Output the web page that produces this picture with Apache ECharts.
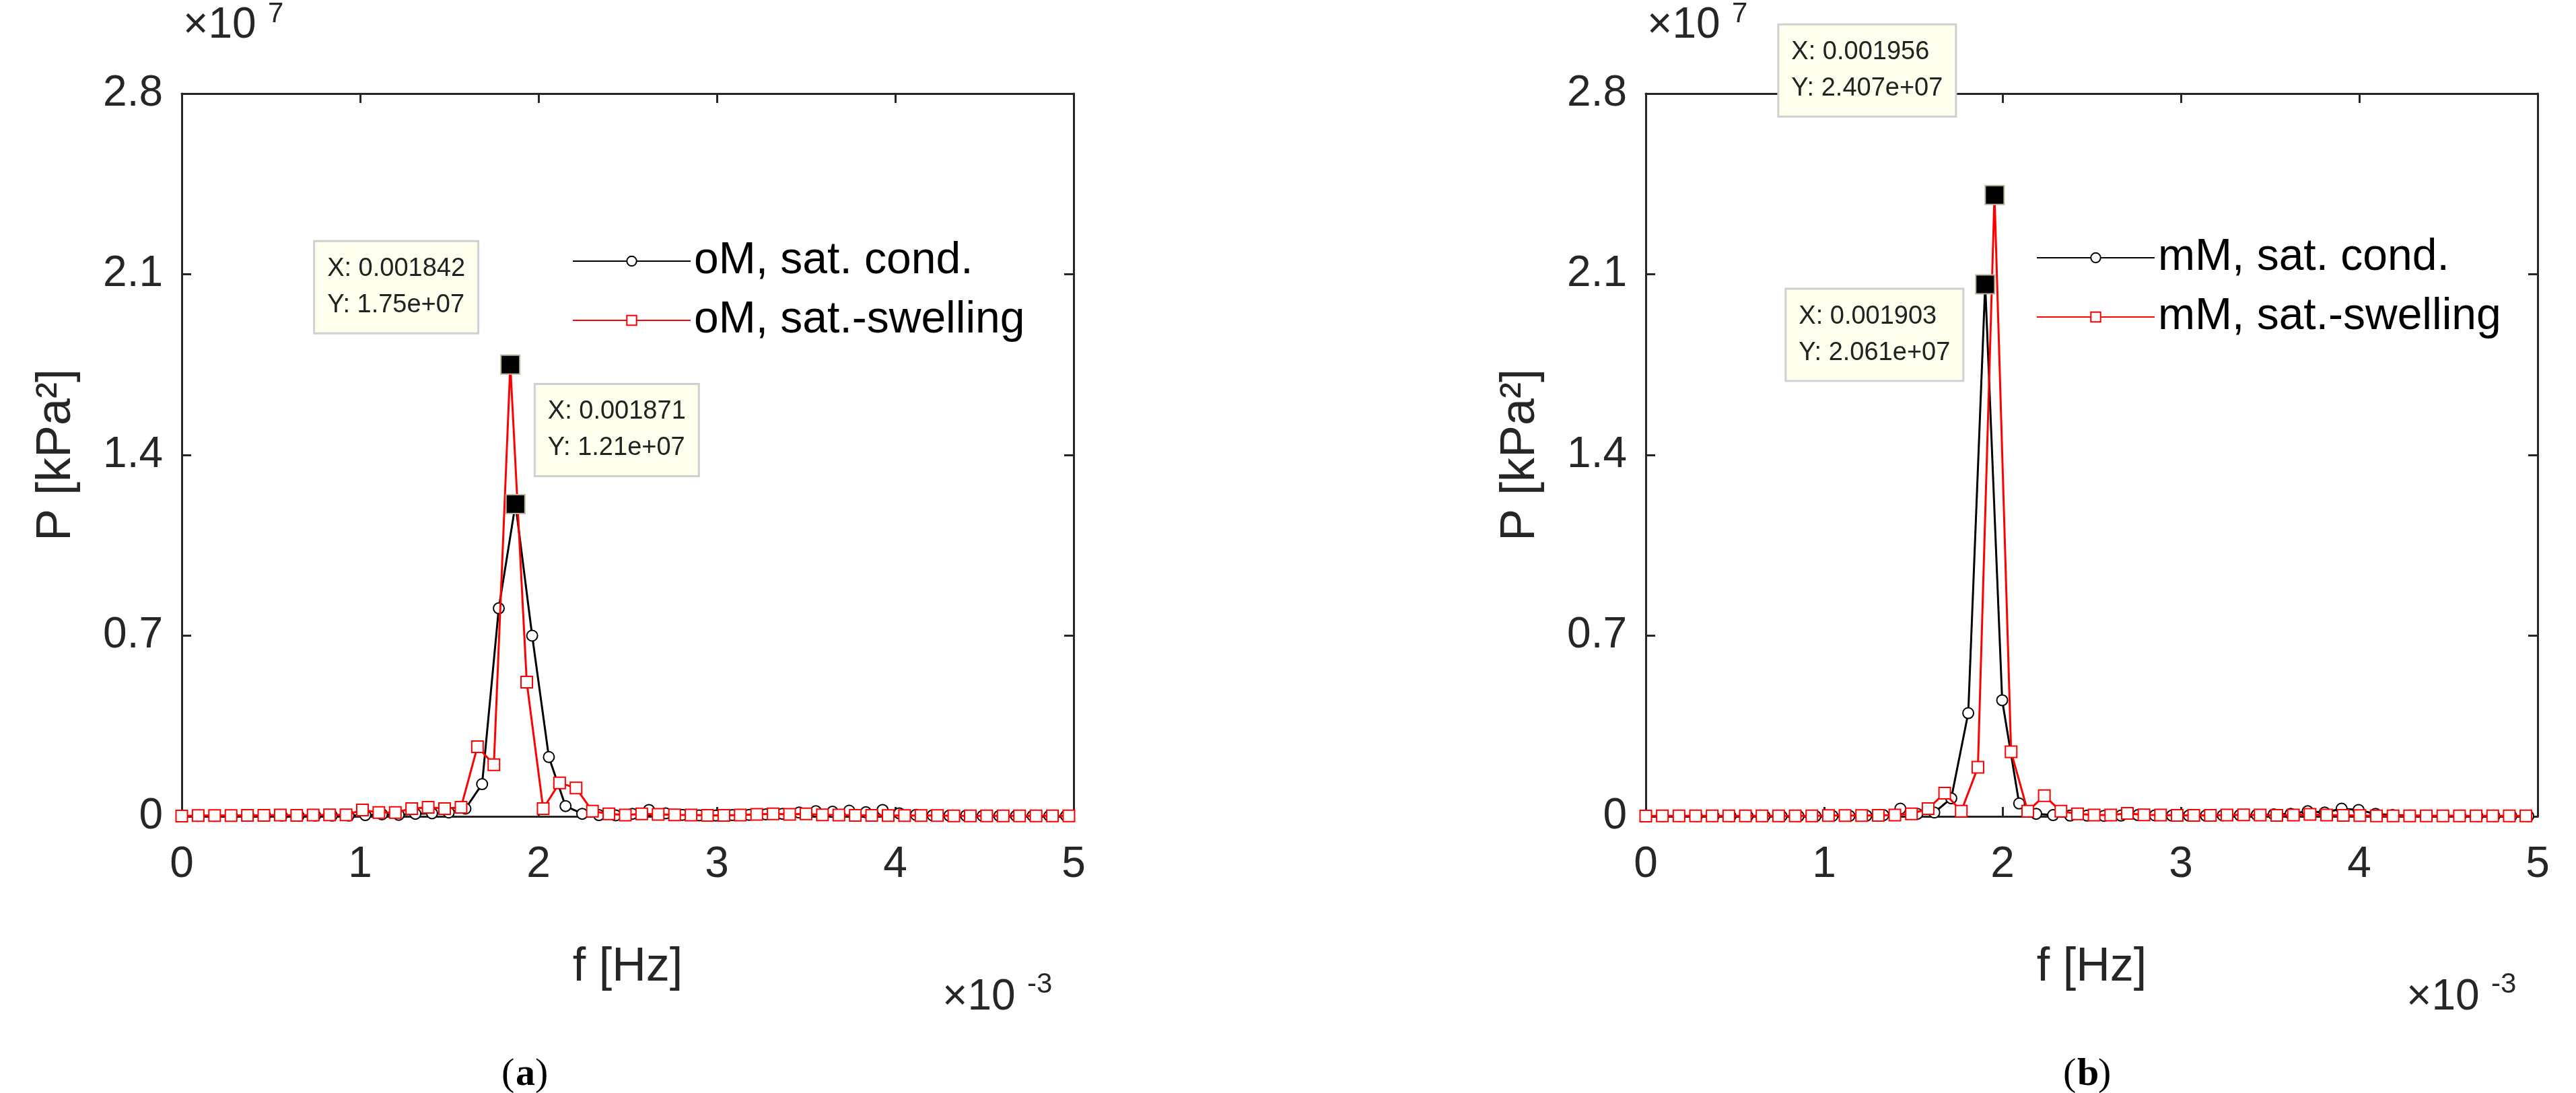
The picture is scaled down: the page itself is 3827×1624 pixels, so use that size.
<!DOCTYPE html>
<html>
<head>
<meta charset="utf-8">
<script src="https://cdn.jsdelivr.net/npm/echarts@6/dist/echarts.min.js"></script>
<style>
  html, body { margin: 0; background: #fff; }
  #chart { width: 3827px; height: 1624px; }
</style>
</head>
<body>
<div id="chart"></div>
<script>
// frequency step of each series [Hz]
const stepA_cond = 0.00009355;
const stepA_swell = 0.0000921;
const stepB_cond = 0.00009515;
const stepB_swell = 0.0000931;

// P values [kPa^2], one per frequency sample
const pA_cond = [
  0, 2e4, 2e4, 2e4, 3e4, 3e4, 3e4, 2e4, 3e4, 3e4,
  3e4, 5e4, 8e4, 6e4, 1e5, 1.2e5, 1.5e5, 3e5, 1.25e6, 8.06e6,
  1.21e7, 7.0e6, 2.3e6, 4e5, 1e5, 5e4, 4e4, 1e5, 2.5e5, 1.2e5,
  6e4, 4e4, 3e4, 5e4, 6e4, 8e4, 1e5, 1.5e5, 2e5, 1.8e5,
  2.2e5, 1.6e5, 2.5e5, 1.2e5, 6e4, 4e4, 3e4, 3e4, 2e4, 2e4,
  2e4, 2e4, 2e4, 2e4
];
const pA_swell = [
  1e4, 3e4, 3e4, 3e4, 4e4, 4e4, 5e4, 4e4, 5e4, 6e4,
  6e4, 2.5e5, 1.5e5, 1.5e5, 3e5, 3.5e5, 3e5, 3.5e5, 2.7e6, 2.0e6,
  1.75e7, 5.2e6, 3e5, 1.3e6, 1.1e6, 2e5, 1e5, 5e4, 1e5, 8e4,
  6e4, 5e4, 4e4, 4e4, 5e4, 8e4, 1e5, 8e4, 1e5, 6e4,
  5e4, 4e4, 4e4, 3e4, 3e4, 3e4, 3e4, 2e4, 2e4, 2e4,
  2e4, 2e4, 2e4, 2e4, 2e4
];
const pB_cond = [
  0, 1e4, 1e4, 1e4, 1e4, 1e4, 1e4, 1e4, 1e4, 1e4,
  1e4, 2e4, 2e4, 3e4, 5e4, 3e5, 1e5, 1.5e5, 7e5, 4.0e6,
  2.061e7, 4.5e6, 5e5, 1e5, 5e4, 3e4, 3e4, 2e4, 3e4, 5e4,
  4e4, 3e4, 3e4, 3e4, 4e4, 5e4, 6e4, 8e4, 1e5, 2e5,
  1.5e5, 3e5, 2.5e5, 1e5, 5e4, 3e4, 2e4, 2e4, 1e4, 1e4,
  1e4, 1e4, 1e4
];
const pB_swell = [
  1e4, 2e4, 2e4, 2e4, 2e4, 2e4, 2e4, 2e4, 2e4, 2e4,
  2e4, 3e4, 3e4, 3e4, 4e4, 5e4, 1e5, 3e5, 9e5, 2e5,
  1.9e6, 2.407e7, 2.5e6, 2e5, 8e5, 2e5, 1e5, 5e4, 5e4, 1.2e5,
  6e4, 5e4, 4e4, 4e4, 4e4, 5e4, 6e4, 5e4, 4e4, 5e4,
  8e4, 5e4, 4e4, 3e4, 2e4, 2e4, 2e4, 2e4, 2e4, 2e4,
  2e4, 2e4, 2e4, 2e4
];
const legendA = ['oM, sat. cond.', 'oM, sat.-swelling'];
const legendB = ['mM, sat. cond.', 'mM, sat.-swelling'];

function toPairs(values, step) {
  return values.map((v, i) => [i * step, v]).filter(p => p[0] <= 0.005);
}

const font = 'Arial, "Liberation Sans", sans-serif';
const axisCol = '#262626';
const grids = [
  { left: 270, top: 139, width: 1325, height: 1074 },
  { left: 2445, top: 139, width: 1325, height: 1074 }
];

let xAxes = [], yAxes = [];
grids.forEach((g, gi) => {
  [false, true].forEach(mirror => {
    xAxes.push({
      type: 'value', gridIndex: gi, min: 0, max: 0.005, interval: 0.001,
      position: mirror ? 'top' : 'bottom',
      name: mirror ? '' : 'f [Hz]', nameLocation: 'middle', nameGap: 190,
      nameTextStyle: { fontSize: 70, color: axisCol, fontFamily: font },
      axisLine: { show: true, onZero: false, lineStyle: { color: axisCol, width: 3 } },
      axisTick: { show: true, inside: true, length: 14, lineStyle: { color: axisCol, width: 3 } },
      axisLabel: { show: !mirror, fontSize: 64, color: axisCol, fontFamily: font, margin: 40,
        formatter: v => String(Math.round(v * 1000)) },
      splitLine: { show: false }
    });
    yAxes.push({
      type: 'value', gridIndex: gi, min: 0, max: 2.8e7, interval: 0.7e7,
      position: mirror ? 'right' : 'left',
      name: mirror ? '' : 'P [kPa²]', nameLocation: 'middle', nameGap: 150,
      nameTextStyle: { fontSize: 72, color: axisCol, fontFamily: font },
      axisLine: { show: true, onZero: false, lineStyle: { color: axisCol, width: 3 } },
      axisTick: { show: true, inside: true, length: 14, lineStyle: { color: axisCol, width: 3 } },
      axisLabel: { show: !mirror, fontSize: 64, color: axisCol, fontFamily: font, margin: 28,
        formatter: v => { const t = v / 1e7; return t === 0 ? '0' : t.toFixed(1); } },
      splitLine: { show: false }
    });
  });
});

function tip(coord, yText, offset) {
  return {
    coord: coord, symbol: 'rect', symbolSize: 28,
    itemStyle: { color: '#000', borderColor: '#b8b39a', borderWidth: 2 },
    label: {
      show: true, offset: offset, color: '#222', fontSize: 38, fontFamily: font, lineHeight: 54,
      align: 'left', backgroundColor: '#ffffee', borderColor: '#d0d0d0', borderWidth: 3,
      padding: [16, 18, 10, 18],
      formatter: 'X: ' + coord[0] + '\nY: ' + yText
    }
  };
}

function lineSeries(name, data, axisIdx, red, tips) {
  return {
    name: name, type: 'line', data: data,
    xAxisIndex: axisIdx, yAxisIndex: axisIdx,
    symbol: red ? 'emptyRect' : 'emptyCircle', symbolSize: red ? 17 : 16,
    showAllSymbol: true, z: red ? 3 : 2,
    lineStyle: { color: red ? '#ff0000' : '#000', width: 3 },
    itemStyle: { color: red ? '#ff0000' : '#000', borderWidth: 2 },
    markPoint: { data: tips, animation: false }
  };
}

const legendBase = { orient: 'vertical', itemWidth: 175, itemHeight: 18, itemGap: 22,
  textStyle: { fontSize: 66, color: '#000', fontFamily: font } };

const option = {
  animation: false,
  grid: grids,
  xAxis: xAxes,
  yAxis: yAxes,
  legend: [
    Object.assign({ data: legendA, left: 845, top: 350 }, legendBase),
    Object.assign({ data: legendB, left: 3020, top: 345 }, legendBase)
  ],
  graphic: [
    { type: 'text', left: 272, top: 6, style: { text: '×10', fill: axisCol, font: '64px ' + font } },
    { type: 'text', left: 398, top: 0, style: { text: '7', fill: axisCol, font: '42px ' + font } },
    { type: 'text', left: 2447, top: 6, style: { text: '×10', fill: axisCol, font: '64px ' + font } },
    { type: 'text', left: 2573, top: 0, style: { text: '7', fill: axisCol, font: '42px ' + font } },
    { type: 'text', left: 1400, top: 1450, style: { text: '×10', fill: axisCol, font: '64px ' + font } },
    { type: 'text', left: 1526, top: 1442, style: { text: '-3', fill: axisCol, font: '42px ' + font } },
    { type: 'text', left: 3575, top: 1450, style: { text: '×10', fill: axisCol, font: '64px ' + font } },
    { type: 'text', left: 3701, top: 1442, style: { text: '-3', fill: axisCol, font: '42px ' + font } },
    { type: 'text', left: 745, top: 1568, style: { text: '(', fill: '#000', font: '58px "Liberation Serif", serif' } },
    { type: 'text', left: 766, top: 1568, style: { text: 'a', fill: '#000', font: 'bold 58px "Liberation Serif", serif' } },
    { type: 'text', left: 795, top: 1568, style: { text: ')', fill: '#000', font: '58px "Liberation Serif", serif' } },
    { type: 'text', left: 3065, top: 1568, style: { text: '(', fill: '#000', font: '58px "Liberation Serif", serif' } },
    { type: 'text', left: 3086, top: 1568, style: { text: 'b', fill: '#000', font: 'bold 58px "Liberation Serif", serif' } },
    { type: 'text', left: 3117, top: 1568, style: { text: ')', fill: '#000', font: '58px "Liberation Serif", serif' } }
  ],
  series: [
    lineSeries(legendA[0], toPairs(pA_cond, stepA_cond), 0, false,
      [tip([0.001871, 1.21e7], '1.21e+07', [30, -110])]),
    lineSeries(legendA[1], toPairs(pA_swell, stepA_swell), 0, true,
      [tip([0.001842, 1.75e7], '1.75e+07', [-290, -115])]),
    lineSeries(legendB[0], toPairs(pB_cond, stepB_cond), 2, false,
      [tip([0.001903, 2.061e7], '2.061e+07', [-295, 75])]),
    lineSeries(legendB[1], toPairs(pB_swell, stepB_swell), 2, true,
      [tip([0.001956, 2.407e7], '2.407e+07', [-320, -185])])
  ]
};

const myChart = echarts.init(document.getElementById('chart'));
myChart.setOption(option);
</script>
</body>
</html>
